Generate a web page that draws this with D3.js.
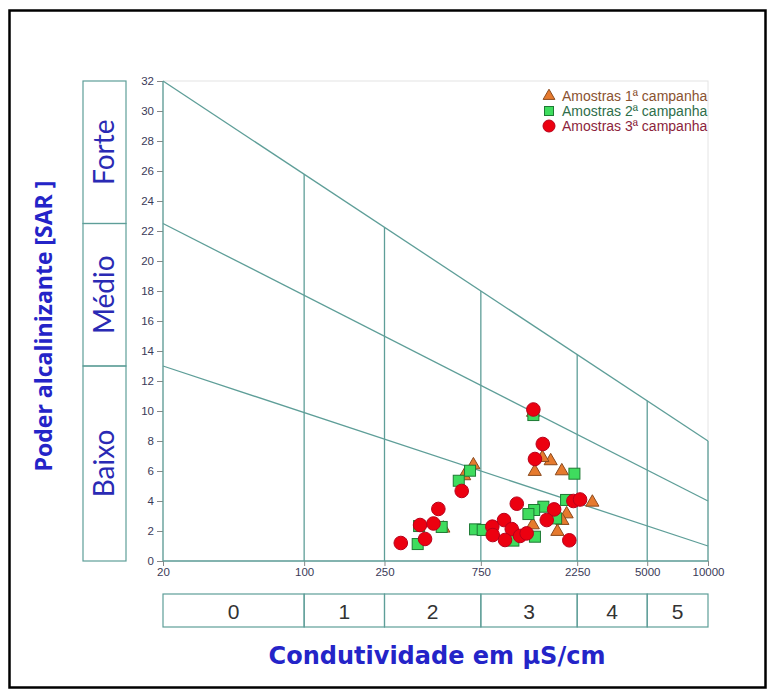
<!DOCTYPE html>
<html><head><meta charset="utf-8">
<script src="https://cdn.jsdelivr.net/npm/d3@7"></script>
<style>html,body{margin:0;padding:0;background:#fff;}svg{display:block;}</style>
</head><body>
<svg id="c" width="774" height="693"></svg>
<script>
// ---- data ----
const xTicks = [20, 100, 250, 750, 2250, 5000, 10000];
const yTicks = d3.range(0, 33, 2);
const classBounds = [20, 100, 250, 750, 2250, 5000, 10000];
const classLabels = ["0", "1", "2", "3", "4", "5"];
const sarBounds = [0, 13, 22.5, 32];
const sarLabels = ["Baixo", "Médio", "Forte"];
// dividing lines: SAR at 20 and at 10000 µS/cm
const divLines = [[32, 8], [22.5, 4], [13, 1]];
const legendLabels = ["Amostras 1ª campanha", "Amostras 2ª campanha", "Amostras 3ª campanha"];
// campaign 1 (triangles)
const c1x = [689, 620, 489, 1387, 1663, 1513, 1888, 2675, 1995, 1900, 1356, 1795, 1360];
const c1y = [6.4, 5.67, 2.18, 5.96, 6.67, 6.89, 6.0, 3.91, 3.13, 2.69, 2.4, 1.96, 9.9];
// campaign 2 (squares)
const c2x = [1365, 2180, 663, 583, 1982, 1530, 1377, 1290, 1770, 480, 371, 365, 702, 766, 1390, 1087];
const c2y = [9.73, 5.82, 6.02, 5.35, 4.07, 3.62, 3.4, 3.13, 2.84, 2.27, 2.33, 1.13, 2.11, 2.07, 1.62, 1.36];
// campaign 3 (circles)
const c3x = [1365, 1520, 1390, 603, 462, 1130, 2155, 2325, 1730, 375, 437, 397, 301, 977, 855, 859, 1067, 988, 1173, 1265, 1590, 2057];
const c3y = [10.1, 7.8, 6.8, 4.67, 3.47, 3.82, 4.0, 4.1, 3.44, 2.4, 2.5, 1.47, 1.2, 2.73, 2.29, 1.73, 2.13, 1.4, 1.67, 1.84, 2.73, 1.38];

// ---- layout ----
const svg = d3.select("#c");
const L = 163, R = 708, T = 81, B = 561;
const x = d3.scaleLog().domain([20, 10000]).range([L, R]);
const y = d3.scaleLinear().domain([0, 32]).range([B, T]);
const teal = "#5e9e98";
const blue = "#2424c8";

// outer border
svg.append("rect").attr("x", 9.5).attr("y", 10.5).attr("width", 756).attr("height", 677)
  .attr("fill", "none").attr("stroke", "#000").attr("stroke-width", 2.5);

// faint plot frame
svg.append("rect").attr("x", L).attr("y", T).attr("width", R - L).attr("height", B - T)
  .attr("fill", "none").attr("stroke", "#e4e4e4").attr("stroke-width", 1);

// axes
const ya = svg.append("g").attr("transform", `translate(${L},0)`)
  .call(d3.axisLeft(y).tickValues(yTicks).tickSize(6).tickPadding(3));
ya.select(".domain").remove();
ya.selectAll("line").attr("stroke", "#888");
ya.selectAll("text").attr("font-family", "Liberation Sans, Arial").attr("font-size", 11.5).attr("fill", "#3a3a58");

const xa = svg.append("g").attr("transform", `translate(0,${B})`)
  .call(d3.axisBottom(x).tickValues(xTicks).tickFormat(d3.format("d")).tickSize(5).tickPadding(2));
xa.select(".domain").remove();
xa.selectAll("line").attr("stroke", "#888");
xa.selectAll("text").attr("font-family", "Liberation Sans, Arial").attr("font-size", 11.5).attr("fill", "#3a3a58");

// diagram lines
const g = svg.append("g").attr("stroke", teal).attr("stroke-width", 1.3).attr("fill", "none");
g.append("line").attr("x1", x(20)).attr("x2", R).attr("y1", y(0)).attr("y2", y(0));
g.append("line").attr("x1", x(20)).attr("x2", x(20)).attr("y1", y(0)).attr("y2", y(32));
const topAt = v => {
  const t = (Math.log10(v) - Math.log10(20)) / (Math.log10(10000) - Math.log10(20));
  return divLines[0][0] + (divLines[0][1] - divLines[0][0]) * t;
};
classBounds.slice(1).forEach(v => {
  g.append("line").attr("x1", x(v)).attr("x2", x(v)).attr("y1", y(0)).attr("y2", y(topAt(v)));
});
divLines.forEach(d => {
  g.append("line").attr("x1", x(20)).attr("x2", x(10000)).attr("y1", y(d[0])).attr("y2", y(d[1]));
});

// left class boxes
const lb = svg.append("g");
for (let i = 0; i < sarLabels.length; i++) {
  const y0 = y(sarBounds[i]), y1 = y(sarBounds[i + 1]);
  lb.append("rect").attr("x", 83).attr("y", y1).attr("width", 43).attr("height", y0 - y1)
    .attr("fill", "none").attr("stroke", teal).attr("stroke-width", 1.2);
  const cy = (y0 + y1) / 2;
  lb.append("text").attr("transform", `translate(114,${cy}) rotate(-90)`)
    .attr("text-anchor", "middle").attr("font-family", "Lato, Open Sans").attr("font-size", 28)
    .attr("fill", "#2a2ab4").text(sarLabels[i]);
}

// bottom class boxes
const bb = svg.append("g");
for (let i = 0; i < classLabels.length; i++) {
  const x0 = x(classBounds[i]), x1 = x(classBounds[i + 1]);
  bb.append("rect").attr("x", x0).attr("y", 594).attr("width", x1 - x0).attr("height", 33)
    .attr("fill", "none").attr("stroke", teal).attr("stroke-width", 1.2);
  bb.append("text").attr("x", (x0 + x1) / 2).attr("y", 619).attr("text-anchor", "middle")
    .attr("font-family", "Liberation Sans, Arial").attr("font-size", 21).attr("fill", "#333")
    .text(classLabels[i]);
}

// axis titles
svg.append("text").attr("transform", "translate(52,326) rotate(-90)").attr("text-anchor", "middle")
  .attr("font-family", "Open Sans, Liberation Sans").attr("font-weight", "bold").attr("font-size", 23)
  .attr("fill", blue).text("Poder alcalinizante [SAR ]");
svg.append("text").attr("x", 437).attr("y", 664).attr("text-anchor", "middle")
  .attr("font-family", "DejaVu Sans").attr("font-weight", "bold").attr("font-size", 24)
  .attr("fill", blue).text("Condutividade em µS/cm");

// markers
const tri = d3.symbol().type(d3.symbolTriangle).size(75);
const pts = svg.append("g");
pts.selectAll("path.t").data(c1x.map((v, i) => [v, c1y[i]])).join("path").attr("class", "t")
  .attr("d", tri).attr("transform", d => `translate(${x(d[0])},${y(d[1])})`)
  .attr("fill", "#e67a2e").attr("stroke", "#8a4a1e").attr("stroke-width", 1);
pts.selectAll("rect.s").data(c2x.map((v, i) => [v, c2y[i]])).join("rect").attr("class", "s")
  .attr("x", d => x(d[0]) - 5.5).attr("y", d => y(d[1]) - 5.5).attr("width", 11).attr("height", 11)
  .attr("fill", "#3fdc5e").attr("stroke", "#1e7a34").attr("stroke-width", 1);
pts.selectAll("circle.c").data(c3x.map((v, i) => [v, c3y[i]])).join("circle").attr("class", "c")
  .attr("cx", d => x(d[0])).attr("cy", d => y(d[1])).attr("r", 6.8)
  .attr("fill", "#ec0010").attr("stroke", "#b8001a").attr("stroke-width", 1);

// legend
const lg = svg.append("g").attr("font-family", "Liberation Sans, Arial").attr("font-size", 14);
const lcol = ["#8a5230", "#2e6e4a", "#8c1f3c"];
const ly = [96, 111, 126];
lg.append("path").attr("d", d3.symbol().type(d3.symbolTriangle).size(60))
  .attr("transform", `translate(549,${ly[0]})`).attr("fill", "#e67a2e").attr("stroke", "#8a4a1e");
lg.append("rect").attr("x", 544.5).attr("y", ly[1] - 4.5).attr("width", 9).attr("height", 9)
  .attr("fill", "#3fdc5e").attr("stroke", "#1e7a34");
lg.append("circle").attr("cx", 549).attr("cy", ly[2]).attr("r", 6)
  .attr("fill", "#ec0010").attr("stroke", "#b8001a");
legendLabels.forEach((t, i) => {
  lg.append("text").attr("x", 562).attr("y", ly[i] + 5).attr("fill", lcol[i]).text(t);
});
</script>
</body></html>
